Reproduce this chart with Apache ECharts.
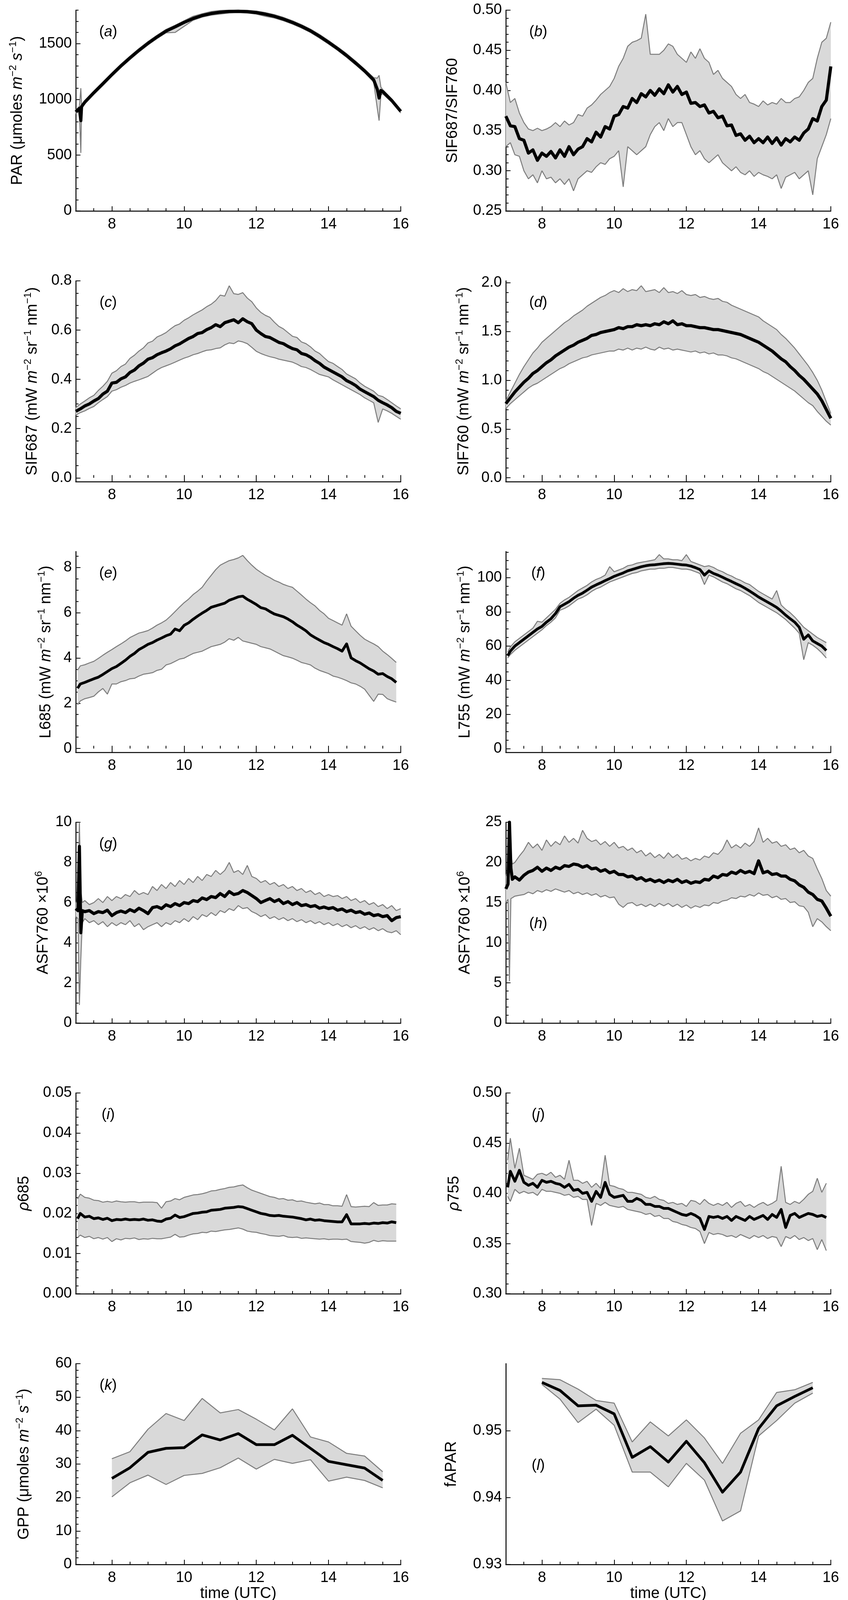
<!DOCTYPE html>
<html>
<head>
<meta charset="utf-8">
<script src="https://cdn.jsdelivr.net/npm/echarts@6/dist/echarts.min.js"></script>
<style>
  html, body { margin: 0; padding: 0; background: #fff; }
  #fig { width: 2171px; height: 4148px; }
</style>
</head>
<body>
<div id="fig"></div>
<script>
// ---- time stamps (UTC hours) ----
var T = [7,7.125,7.25,7.375,7.5,7.625,7.75,7.875,8,8.125,8.25,8.375,8.5,8.625,8.75,8.875,
  9,9.125,9.25,9.375,9.5,9.625,9.75,9.875,10,10.125,10.25,10.375,10.5,10.625,10.75,10.875,
  11,11.125,11.25,11.375,11.5,11.625,11.75,11.875,12,12.125,12.25,12.375,12.5,12.625,12.75,12.875,
  13,13.125,13.25,13.375,13.5,13.625,13.75,13.875,14,14.125,14.25,14.375,14.5,14.625,14.75,14.875,
  15,15.125,15.25,15.375,15.5,15.625,15.75,15.875,16];
var tR = [7.05].concat(T.slice(1, 72));                       // radiance / reflectance records
var tSpike = [7, 7.06, 7.1, 7.14, 7.18].concat(T.slice(2));   // ASFY with start-up spike
var tPar = [7,7.1,7.14,7.16,7.18,7.25,7.5,7.75,8,8.25,8.5,8.75,9,9.25,9.5,9.75,10,10.25,10.5,10.75,
  11,11.25,11.5,11.75,12,12.25,12.5,12.75,13,13.25,13.5,13.75,14,14.25,14.5,14.75,15,15.25,
  15.35,15.4,15.45,15.5,15.75,16];
var tHalf = [8,8.5,9,9.5,10,10.5,11,11.5,12,12.5,13,13.5,14,14.5,15,15.5];

// ---- (a) PAR ----
var parMean = [888,920,810,935,930,975,1060,1140,1222,1300,1372,1440,1503,1560,1612,1650,1690,1725,1752,1770,
  1782,1789,1790,1787,1778,1764,1745,1720,1690,1655,1615,1566,1512,1455,1393,1326,1255,1175,
  1090,1012,1080,1070,990,893];
var parUp = [905,935,1100,950,945,990,1075,1155,1237,1315,1387,1455,1518,1575,1627,1665,1705,1745,1768,1788,
  1797,1800,1800,1798,1792,1778,1760,1735,1705,1670,1630,1582,1528,1470,1410,1342,1270,1195,
  1190,1215,1110,1088,1005,905];
var parLo = [870,900,520,915,915,960,1045,1125,1207,1285,1357,1425,1488,1545,1597,1600,1655,1710,1738,1755,
  1765,1775,1777,1774,1765,1745,1730,1705,1675,1640,1600,1550,1496,1440,1378,1310,1240,1155,
  920,810,1040,1050,975,878];

// ---- (b) SIF687/SIF760 ----
var bMean = [0.368,0.356,0.355,0.340,0.338,0.322,0.326,0.313, 0.322,0.318,0.324,0.316,0.326,0.318,0.330,0.320,
  0.327,0.330,0.340,0.336,0.348,0.342,0.355,0.352, 0.368,0.370,0.380,0.378,0.390,0.385,0.396,0.392,
  0.400,0.394,0.402,0.396,0.407,0.398,0.405,0.395, 0.398,0.384,0.385,0.380,0.382,0.372,0.374,0.366,
  0.368,0.356,0.357,0.344,0.346,0.338,0.343,0.335, 0.340,0.335,0.342,0.334,0.341,0.332,0.340,0.336,
  0.342,0.338,0.347,0.352,0.365,0.362,0.380,0.388, 0.430];
var bUp = [0.410,0.385,0.390,0.372,0.360,0.352,0.350,0.353, 0.350,0.352,0.355,0.360,0.355,0.362,0.357,0.360,
  0.370,0.368,0.378,0.382,0.388,0.395,0.400,0.405, 0.415,0.430,0.440,0.455,0.460,0.462,0.465,0.495,
  0.445,0.445,0.445,0.450,0.458,0.455,0.445,0.440, 0.435,0.448,0.440,0.452,0.440,0.435,0.420,0.425,
  0.415,0.410,0.405,0.395,0.390,0.395,0.385,0.383, 0.380,0.387,0.382,0.385,0.383,0.390,0.385,0.385,
  0.390,0.392,0.400,0.410,0.415,0.440,0.460,0.465, 0.485];
var bLo = [0.330,0.335,0.320,0.318,0.300,0.290,0.295,0.285, 0.300,0.290,0.292,0.285,0.290,0.283,0.290,0.275,
  0.290,0.295,0.300,0.298,0.305,0.310,0.308,0.315, 0.318,0.325,0.280,0.330,0.325,0.320,0.325,0.330,
  0.345,0.355,0.360,0.350,0.365,0.355,0.360,0.360, 0.345,0.330,0.320,0.325,0.315,0.310,0.315,0.320,
  0.310,0.305,0.300,0.305,0.298,0.295,0.300,0.293, 0.298,0.295,0.293,0.290,0.295,0.278,0.292,0.295,
  0.298,0.290,0.295,0.300,0.270,0.315,0.330,0.345, 0.365];

// ---- (c) SIF687 ----
var cMean = [0.270,0.280,0.292,0.300,0.312,0.322,0.340,0.352, 0.385,0.388,0.402,0.410,0.428,0.438,0.455,0.466,
  0.482,0.488,0.500,0.508,0.515,0.524,0.536,0.544, 0.555,0.566,0.574,0.586,0.590,0.602,0.610,0.622,
  0.614,0.630,0.636,0.642,0.630,0.646,0.634,0.626, 0.600,0.586,0.574,0.570,0.560,0.550,0.545,0.534,
  0.525,0.520,0.505,0.500,0.490,0.476,0.465,0.450, 0.440,0.430,0.420,0.410,0.395,0.386,0.375,0.360,
  0.350,0.340,0.330,0.315,0.305,0.296,0.285,0.270, 0.262];
var cUp = [0.285,0.300,0.312,0.325,0.335,0.355,0.372,0.392, 0.425,0.435,0.452,0.462,0.485,0.498,0.515,0.528,
  0.548,0.555,0.572,0.580,0.590,0.605,0.618,0.625, 0.640,0.650,0.662,0.672,0.682,0.695,0.705,0.720,
  0.742,0.738,0.780,0.748,0.745,0.752,0.730,0.715, 0.690,0.672,0.660,0.652,0.632,0.615,0.605,0.590,
  0.575,0.570,0.552,0.545,0.532,0.515,0.505,0.488, 0.472,0.465,0.452,0.440,0.422,0.412,0.402,0.385,
  0.372,0.362,0.352,0.335,0.330,0.318,0.305,0.292, 0.280];
var cLo = [0.255,0.265,0.272,0.282,0.290,0.305,0.318,0.330, 0.352,0.358,0.368,0.375,0.385,0.392,0.398,0.405,
  0.412,0.425,0.438,0.448,0.455,0.462,0.470,0.478, 0.486,0.492,0.500,0.505,0.512,0.518,0.520,0.525,
  0.528,0.540,0.548,0.545,0.556,0.552,0.545,0.530, 0.514,0.505,0.498,0.492,0.488,0.482,0.478,0.474,
  0.470,0.462,0.452,0.448,0.440,0.430,0.420,0.415, 0.410,0.398,0.388,0.378,0.368,0.358,0.348,0.338,
  0.325,0.315,0.305,0.225,0.280,0.272,0.262,0.250, 0.238];

// ---- (d) SIF760 ----
var dMean = [0.76,0.82,0.88,0.93,0.98,1.02,1.07,1.10, 1.14,1.18,1.21,1.25,1.28,1.31,1.34,1.36,
  1.39,1.41,1.43,1.46,1.47,1.49,1.50,1.51, 1.52,1.54,1.53,1.55,1.55,1.57,1.56,1.57,
  1.56,1.58,1.57,1.60,1.58,1.61,1.57,1.58, 1.56,1.56,1.55,1.54,1.54,1.53,1.52,1.52,
  1.51,1.50,1.49,1.48,1.47,1.45,1.43,1.41, 1.39,1.36,1.33,1.30,1.26,1.22,1.19,1.14,
  1.10,1.05,1.01,0.96,0.91,0.86,0.79,0.70, 0.61];
var dUp = [0.79,0.88,0.97,1.06,1.14,1.21,1.28,1.33, 1.39,1.43,1.47,1.51,1.55,1.59,1.62,1.66,
  1.69,1.72,1.76,1.79,1.82,1.85,1.87,1.90, 1.92,1.90,1.94,1.91,1.93,1.92,1.97,1.91,
  1.92,1.93,1.90,1.95,1.90,1.91,1.89,1.92, 1.88,1.87,1.88,1.85,1.86,1.84,1.83,1.84,
  1.81,1.80,1.77,1.75,1.73,1.71,1.69,1.67, 1.65,1.61,1.58,1.55,1.52,1.47,1.43,1.38,
  1.33,1.27,1.21,1.15,1.08,1.00,0.90,0.78, 0.66];
var dLo = [0.71,0.76,0.80,0.84,0.88,0.92,0.95,0.97, 1.00,1.03,1.06,1.09,1.12,1.14,1.17,1.19,
  1.21,1.23,1.24,1.26,1.27,1.28,1.29,1.30, 1.30,1.32,1.31,1.33,1.31,1.33,1.32,1.34,
  1.32,1.31,1.34,1.32,1.33,1.31,1.32,1.31, 1.30,1.29,1.30,1.28,1.29,1.27,1.28,1.26,
  1.26,1.25,1.23,1.22,1.20,1.18,1.16,1.14, 1.12,1.09,1.07,1.04,1.01,0.98,0.95,0.92,
  0.89,0.85,0.81,0.77,0.74,0.68,0.63,0.58, 0.54];

// ---- (e) L685 ----
var eMean = [2.66,2.85,2.92,3.00,3.08,3.15,3.27,3.40, 3.53,3.62,3.76,3.90,4.07,4.20,4.37,4.48,
  4.60,4.68,4.79,4.88,4.98,5.05,5.28,5.20, 5.44,5.55,5.71,5.85,5.98,6.10,6.24,6.30,
  6.36,6.42,6.55,6.62,6.70,6.73,6.59,6.48, 6.36,6.22,6.17,6.05,5.94,5.88,5.82,5.72,
  5.60,5.45,5.33,5.20,5.02,4.90,4.79,4.68, 4.60,4.50,4.41,4.30,4.62,4.00,3.88,3.78,
  3.65,3.52,3.42,3.28,3.31,3.18,3.08,2.92];
var eUp = [3.46,3.65,3.70,3.78,3.85,3.98,4.12,4.25, 4.37,4.50,4.62,4.75,4.90,5.00,5.10,5.15,
  5.21,5.32,5.45,5.55,5.67,5.85,6.05,6.25, 6.44,6.60,6.80,6.95,7.12,7.40,7.65,7.90,
  8.10,8.20,8.30,8.35,8.42,8.53,8.30,8.10, 7.92,7.78,7.65,7.55,7.43,7.35,7.25,7.18,
  7.12,6.95,6.78,6.60,6.44,6.30,6.10,5.95, 5.75,5.65,5.55,5.45,5.95,5.40,5.20,5.00,
  4.83,4.72,4.62,4.50,4.30,4.15,3.98,3.80];
var eLo = [1.93,2.10,2.20,2.25,2.31,2.50,2.65,2.40, 2.85,2.85,2.95,3.00,3.08,3.10,3.20,3.28,
  3.31,3.35,3.45,3.50,3.69,3.75,3.85,3.95, 3.99,4.10,4.20,4.25,4.30,4.40,4.50,4.55,
  4.60,4.70,4.85,4.78,4.91,4.75,4.70,4.65, 4.60,4.50,4.45,4.40,4.30,4.20,4.10,4.05,
  3.99,3.90,3.80,3.75,3.69,3.55,3.45,3.38, 3.31,3.20,3.15,3.08,3.00,2.90,2.85,2.75,
  2.62,2.35,2.08,2.40,2.39,2.20,2.12,2.05];

// ---- (f) L755 ----
var fMean = [54.3,57.0,60.0,62.0,64.0,66.0,68.0,70.0, 71.5,74.0,76.0,79.0,83.0,84.5,86.0,88.0,
  89.7,91.0,92.7,94.5,95.8,97.0,98.3,99.5, 100.8,101.8,102.8,104.0,104.8,105.6,106.4,107.0,
  107.4,107.6,107.9,108.2,108.4,108.2,107.9,107.6, 107.4,106.8,105.9,104.8,101.5,104.0,102.5,101.5,
  100.3,99.0,97.8,96.5,95.3,93.8,92.2,90.5, 88.7,87.2,85.7,84.2,82.6,80.5,78.1,76.0,
  74.0,71.0,64.0,66.5,63.0,61.5,60.0,57.4];
var fUp = [56.5,59.5,62.5,64.5,66.5,68.5,70.5,74.5, 74,76.5,79,81.5,85,87,88.5,90.5,
  92.5,94,95.5,97.5,99,100,101.5,106.5, 103.5,104.5,105.5,107,107.5,108.5,109,109.5,
  110,110.5,113.5,111,111,110.5,110.5,110, 113.5,109.5,108.5,107.5,106.5,107,106,104.5,
  103.5,102,101,99.5,98.5,97,96,94, 92,90.5,89,87.5,92.5,84,81.5,79.5,
  77,74,71,69,67,65,63.5,62];
var fLo = [53,55,57.5,59.5,61.5,63.5,65.5,67.5, 69.5,72,74,76.5,81,82,83.5,85.5,
  87.5,88.5,90,92,93.5,94.5,96,97.5, 98.5,99.5,100.5,101.5,102.5,103,104,104.5,
  105,105,105.5,105.5,106,106,105.5,105, 105,104.5,103.5,102.5,96,101.5,100.5,99,
  97.5,96.5,95,93.5,92.5,91,89.5,87.5, 85.5,84,82.5,81,79.5,77.5,75.5,73,
  70.5,67.5,52,62,60.5,58.5,56,53];

// ---- (g) ASFY760 ----
var gMean = [5.7,5.6,8.8,4.5,5.6, 5.55,5.6,5.45,5.55,5.5,5.62,
  5.35,5.5,5.58,5.5,5.65,5.55,5.72,5.6, 5.45,5.75,5.8,5.7,5.89,5.8,5.95,5.85,
  6.0,5.95,6.1,6.05,6.23,6.15,6.3,6.25, 6.45,6.3,6.55,6.4,6.45,6.6,6.5,6.35,
  6.2,6.0,6.1,6.2,6.05,6.15,5.95,6.05, 5.9,6.0,5.85,5.9,5.8,5.85,5.72,5.78,
  5.7,5.75,5.62,5.68,5.55,5.62,5.5,5.55, 5.42,5.48,5.35,5.4,5.3,5.35,5.1,5.25, 5.3];
var gUp = [6.0,6.1,10.0,6.6,6.0, 6.1,5.9,6.0,6.2,6.0,6.3,
  6.1,6.3,6.2,6.4,6.3,6.6,6.4,6.5, 6.4,6.8,6.6,6.9,6.7,7.0,6.8,7.1,
  6.9,7.2,7.0,7.3,7.1,7.4,7.3,7.6, 7.4,7.6,8.0,7.5,7.6,7.4,7.85,7.3,
  7.2,7.0,7.1,6.9,7.0,6.8,6.9,6.7, 6.8,6.6,6.7,6.5,6.6,6.4,6.5,6.3,
  6.4,6.3,6.35,6.2,6.3,6.1,6.2,6.0, 6.1,5.9,6.0,5.8,5.9,5.7,5.85,5.6, 5.7];
var gLo = [5.3,5.2,0.9,3.2,5.0, 5.2,5.0,5.1,4.9,5.05,4.8,
  5.0,4.85,5.0,4.9,5.1,4.8,4.95,4.65, 4.8,4.9,5.0,4.8,5.0,4.9,5.1,5.0,
  5.2,5.05,5.3,5.15,5.4,5.3,5.5,5.35, 5.6,5.5,5.7,5.6,5.85,5.7,5.75,5.55,
  5.45,5.3,5.4,5.2,5.3,5.15,5.25,5.1, 5.2,5.05,5.15,5.0,5.1,4.95,5.05,4.9,
  5.0,4.85,4.95,4.8,4.9,4.75,4.85,4.7, 4.8,4.65,4.75,4.6,4.7,4.55,4.5,4.6, 4.4];

// ---- (h) ASFY760 ----
var hMean = [16.7,17.3,25.0,19.3,17.9, 18.2,17.8,18.4,18.8,19.0,19.4,
  18.9,19.3,19.0,19.4,19.2,19.6,19.5,19.8, 19.7,19.4,19.6,19.2,19.3,18.9,19.1,18.7,
  18.9,18.5,18.5,18.2,18.3,17.9,18.1,17.7, 17.9,17.6,17.8,17.5,17.8,17.6,17.9,17.5,
  17.7,17.4,17.6,17.5,17.9,17.8,18.3,18.1, 18.5,18.4,18.8,18.6,19.0,18.7,18.9,18.6,
  20.2,18.7,18.9,18.5,18.6,18.3,18.3,17.9, 17.7,17.2,16.9,16.3,16.0,15.4,15.2,14.3, 13.3];
var hUp = [18.3,19.0,25.0,21.0,19.8, 20.0,20.8,21.5,22.5,21.8,22.3,
  21.5,22.8,22.0,22.6,22.2,23.3,22.5,23.0, 22.4,24.0,23.0,22.6,22.8,22.2,22.6,22.0,
  22.5,21.8,22.0,21.5,21.8,21.2,21.5,20.8, 21.2,20.6,21.0,20.5,21.2,20.6,21.0,20.4,
  20.6,20.2,20.5,20.3,20.8,20.6,21.2,21.0, 21.6,22.8,21.8,22.2,21.8,22.4,22.0,22.6,
  24.3,22.5,23.0,22.4,22.6,22.0,22.2,21.6, 21.8,21.2,21.5,20.8,20.5,19.2,18.0,16.5, 15.8];
var hLo = [15.0,15.4,5.2,15.5,15.6, 15.8,15.9,16.0,16.3,16.1,16.5,
  16.3,16.6,16.4,16.7,16.5,16.3,16.5,16.1, 16.3,16.0,16.2,15.9,16.1,15.7,15.9,15.6,
  15.7,14.8,14.4,14.9,15.0,14.6,14.8,14.5, 14.8,14.5,14.9,14.6,14.9,14.5,14.8,14.4,
  14.7,14.3,14.6,14.4,14.7,14.6,15.0,14.9, 15.2,15.3,15.6,15.5,15.8,15.7,16.0,15.8,
  16.2,15.9,16.0,15.6,15.8,15.4,15.5,15.0, 15.1,14.6,14.5,13.8,12.0,13.0,12.6,12.0, 11.5];

// ---- (i) rho685 ----
var iMean = [0.0187,0.0200,0.0191,0.0193,0.0187,0.0189,0.0185,0.0188, 0.0182,0.0185,0.0184,0.0186,0.0184,0.0185,0.0184,0.0186,
  0.0183,0.0184,0.0181,0.0180,0.0186,0.0188,0.0196,0.0190, 0.0192,0.0196,0.0200,0.0201,0.0203,0.0204,0.0208,0.0209,
  0.0210,0.0213,0.0214,0.0215,0.0217,0.0216,0.0212,0.0208, 0.0204,0.0200,0.0198,0.0195,0.0194,0.0195,0.0193,0.0192,
  0.0191,0.0189,0.0187,0.0184,0.0186,0.0183,0.0184,0.0182, 0.0181,0.0180,0.0179,0.0179,0.0197,0.0174,0.0174,0.0174,
  0.0175,0.0174,0.0176,0.0175,0.0177,0.0176,0.0179,0.0177];
var iUp = [0.0236,0.0248,0.0240,0.0238,0.0233,0.0232,0.0228,0.0230, 0.0228,0.0231,0.0229,0.0228,0.0229,0.0229,0.0227,0.0228,
  0.0228,0.0228,0.0227,0.0213,0.0229,0.0231,0.0237,0.0234, 0.0240,0.0243,0.0246,0.0247,0.0249,0.0252,0.0256,0.0257,
  0.0260,0.0262,0.0265,0.0266,0.0269,0.0271,0.0264,0.0258, 0.0254,0.0250,0.0246,0.0242,0.0240,0.0236,0.0237,0.0233,
  0.0234,0.0230,0.0231,0.0228,0.0226,0.0224,0.0226,0.0222, 0.0222,0.0219,0.0219,0.0218,0.0247,0.0217,0.0216,0.0217,
  0.0218,0.0217,0.0227,0.0220,0.0221,0.0221,0.0224,0.0223];
var iLo = [0.0140,0.0146,0.0140,0.0143,0.0137,0.0140,0.0136,0.0140, 0.0130,0.0137,0.0134,0.0138,0.0137,0.0139,0.0135,0.0137,
  0.0136,0.0138,0.0137,0.0137,0.0139,0.0141,0.0148,0.0141, 0.0142,0.0146,0.0149,0.0150,0.0153,0.0152,0.0156,0.0155,
  0.0157,0.0159,0.0160,0.0162,0.0164,0.0161,0.0156,0.0154, 0.0153,0.0150,0.0148,0.0145,0.0144,0.0143,0.0145,0.0141,
  0.0140,0.0141,0.0138,0.0139,0.0138,0.0137,0.0136,0.0137, 0.0135,0.0136,0.0136,0.0135,0.0136,0.0130,0.0129,0.0128,
  0.0126,0.0128,0.0133,0.0130,0.0132,0.0131,0.0131,0.0131];

// ---- (j) rho755 ----
var jMean = [0.406,0.422,0.412,0.423,0.411,0.408,0.410,0.406, 0.413,0.411,0.412,0.410,0.409,0.406,0.409,0.403,
  0.404,0.400,0.401,0.392,0.402,0.396,0.411,0.399, 0.396,0.397,0.398,0.392,0.392,0.395,0.393,0.389,
  0.389,0.387,0.387,0.385,0.385,0.383,0.381,0.379, 0.378,0.380,0.378,0.375,0.364,0.377,0.376,0.377,
  0.375,0.377,0.373,0.377,0.375,0.373,0.377,0.374, 0.376,0.378,0.374,0.379,0.376,0.384,0.366,0.378,
  0.380,0.376,0.378,0.380,0.379,0.377,0.378,0.376];
var jUp = [0.433,0.455,0.425,0.445,0.418,0.416,0.414,0.419, 0.420,0.418,0.421,0.416,0.418,0.414,0.433,0.413,
  0.413,0.410,0.412,0.406,0.410,0.405,0.438,0.408, 0.407,0.405,0.404,0.401,0.401,0.400,0.399,0.396,
  0.395,0.397,0.394,0.393,0.390,0.391,0.389,0.390, 0.387,0.393,0.392,0.389,0.394,0.390,0.388,0.390,
  0.388,0.391,0.386,0.390,0.392,0.387,0.389,0.386, 0.389,0.391,0.388,0.390,0.393,0.427,0.391,0.389,
  0.392,0.390,0.394,0.399,0.402,0.415,0.401,0.410];
var jLo = [0.397,0.392,0.404,0.400,0.402,0.400,0.401,0.398, 0.404,0.402,0.402,0.401,0.400,0.398,0.399,0.396,
  0.397,0.394,0.394,0.368,0.390,0.388,0.391,0.388, 0.387,0.386,0.387,0.384,0.383,0.382,0.381,0.379,
  0.380,0.377,0.378,0.375,0.375,0.372,0.371,0.369, 0.368,0.366,0.365,0.362,0.350,0.361,0.359,0.360,
  0.359,0.357,0.358,0.356,0.359,0.357,0.355,0.358, 0.356,0.358,0.355,0.357,0.356,0.347,0.357,0.355,
  0.358,0.354,0.356,0.353,0.355,0.344,0.354,0.343];

// ---- (k) GPP, (l) fAPAR, half-hourly ----
var kMean = [25.7,28.9,33.5,34.7,34.9,38.7,37.2,39.1,35.8,35.8,38.6,34.7,30.8,29.8,28.8,25.1];
var kUp = [31.6,33.7,40.4,45.1,43.0,49.6,45.3,46.3,43.4,40.2,46.5,38.1,36.6,33.2,32.4,27.7];
var kLo = [20.2,24.4,26.7,23.9,26.6,27.2,28.9,31.8,28.5,31.4,30.2,31.3,24.9,26.1,25.1,22.9];
var lMean = [0.9572,0.9560,0.9537,0.9538,0.9525,0.9460,0.9476,0.9453,0.9484,0.9452,0.9408,0.9438,0.9503,0.9537,0.9551,0.9564];
var lUp = [0.9578,0.9576,0.9562,0.9545,0.9541,0.9483,0.9513,0.9492,0.9516,0.9489,0.9451,0.9496,0.9516,0.9557,0.9561,0.9572];
var lLo = [0.9569,0.9547,0.9512,0.9532,0.9508,0.9438,0.9438,0.9416,0.9451,0.9426,0.9365,0.9380,0.9492,0.9515,0.9541,0.9556];

// ---- tick labels ----
var xTicks = [8, 10, 12, 14, 16];
var aTicks = [0, 500, 1000, 1500];
var bTicks = [0.25, 0.30, 0.35, 0.40, 0.45, 0.50];
var cTicks = [0, 0.2, 0.4, 0.6, 0.8];
var dTicks = [0, 0.5, 1.0, 1.5, 2.0];
var eTicks = [0, 2, 4, 6, 8];
var fTicks = [0, 20, 40, 60, 80, 100];
var gTicks = [0, 2, 4, 6, 8, 10];
var hTicks = [0, 5, 10, 15, 20, 25];
var iTicks = [0, 0.01, 0.02, 0.03, 0.04, 0.05];
var jTicks = [0.30, 0.35, 0.40, 0.45, 0.50];
var kTicks = [0, 10, 20, 30, 40, 50, 60];
var lTicks = [0.93, 0.94, 0.95];

var FONT = "'Liberation Sans', Arial, Helvetica, sans-serif";
var COL_X = [194, 1295];
var ROW_Y = [26, 719, 1412, 2105, 2798, 3491];
var GW = 832, GH = 514;
var UNITS = '(mW {i|m}{s|\u22122} sr{s|\u22121} nm{s|\u22121})';

var panels = [
  {id: 'a', col: 0, row: 0, t: tPar, mean: parMean, up: parUp, lo: parLo, min: 0, max: 1800, ticks: aTicks, minor: 100, dec: 0,
    name: 'PAR (\u03bcmoles {i|m}{s|\u22122} {i|s}{s|\u22121})', gap: 125, lw: 8},
  {id: 'b', col: 1, row: 0, t: T, mean: bMean, up: bUp, lo: bLo, min: 0.25, max: 0.50, ticks: bTicks, minor: 0.01, dec: 2,
    name: 'SIF687/SIF760', gap: 112, lw: 8},
  {id: 'c', col: 0, row: 1, t: T, mean: cMean, up: cUp, lo: cLo, min: -0.0154, max: 0.8, ticks: cTicks, minor: 0.05, dec: 1,
    name: 'SIF687 ' + UNITS, gap: 87, lw: 8},
  {id: 'd', col: 1, row: 1, t: T, mean: dMean, up: dUp, lo: dLo, min: -0.04, max: 2.02, ticks: dTicks, minor: 0.1, dec: 1,
    name: 'SIF760 ' + UNITS, gap: 83, lw: 8},
  {id: 'e', col: 0, row: 2, t: tR, mean: eMean, up: eUp, lo: eLo, min: -0.17, max: 8.7, ticks: eTicks, minor: 0.5, dec: 0,
    name: 'L685 ' + UNITS, gap: 52, lw: 7},
  {id: 'f', col: 1, row: 2, t: tR, mean: fMean, up: fUp, lo: fLo, min: -2.2, max: 115.3, ticks: fTicks, minor: 5, dec: 0,
    name: 'L755 ' + UNITS, gap: 80, lw: 7},
  {id: 'g', col: 0, row: 3, t: tSpike, mean: gMean, up: gUp, lo: gLo, min: 0, max: 10, ticks: gTicks, minor: 0.5, dec: 0,
    name: 'ASFY760 \u00d710{s|6}', gap: 59, lw: 8},
  {id: 'h', col: 1, row: 3, t: tSpike, mean: hMean, up: hUp, lo: hLo, min: 0, max: 25, ticks: hTicks, minor: 1, dec: 0,
    name: 'ASFY760 \u00d710{s|6}', gap: 80, letterDy: 260, lw: 8},
  {id: 'i', col: 0, row: 4, t: tR, mean: iMean, up: iUp, lo: iLo, min: 0, max: 0.05, ticks: iTicks, minor: 0.002, dec: 2,
    name: '{i|\u03c1}685', gap: 108, lw: 7},
  {id: 'j', col: 1, row: 4, t: tR, mean: jMean, up: jUp, lo: jLo, min: 0.30, max: 0.50, ticks: jTicks, minor: 0.01, dec: 2,
    name: '{i|\u03c1}755', gap: 108, lw: 7},
  {id: 'k', col: 0, row: 5, t: tHalf, mean: kMean, up: kUp, lo: kLo, min: 0, max: 60, ticks: kTicks, minor: 2, dec: 0,
    name: 'GPP (\u03bcmoles {i|m}{s|\u22122} {i|s}{s|\u22121})', gap: 108, time: true, lw: 7},
  {id: 'l', col: 1, row: 5, t: tHalf, mean: lMean, up: lUp, lo: lLo, min: 0.93, max: 0.96, ticks: lTicks, minor: 0, dec: 2,
    name: 'fAPAR', gap: 115, time: true, letterDy: 261, lw: 7}
];

// tick positions between two limits (axis decoration only)
function steps(from, to, step) {
  var out = [];
  var n = Math.floor((to - from) / step + 1e-6);
  for (var k = 0; k <= n; k++) out.push(+(from + k * step).toFixed(6));
  return out;
}
function pairs(t, v) {
  return t.map(function (x, i) { return [x, v[i]]; });
}

var richName = {
  i: {fontSize: 40, fontStyle: 'italic', fontFamily: FONT, color: '#000', lineHeight: 48},
  s: {fontSize: 26, fontFamily: FONT, color: '#000', verticalAlign: 'top', lineHeight: 26}
};
var xMinor = steps(7.5, 16, 0.5);

var grids = [], xAxes = [], yAxes = [], series = [], graphics = [];

panels.forEach(function (p, gi) {
  var left = COL_X[p.col], top = ROW_Y[p.row];
  grids.push({left: left, top: top, width: GW, height: GH});

  // major x axis with labels
  xAxes.push({
    type: 'value', gridIndex: gi, position: 'bottom', min: 7, max: 16,
    axisLine: {show: true, onZero: false, lineStyle: {color: '#000', width: 2.5}},
    axisTick: {show: true, inside: true, length: 12, customValues: xTicks, lineStyle: {color: '#000', width: 2}},
    axisLabel: {show: true, customValues: xTicks, margin: 16, fontSize: 38, fontFamily: FONT, color: '#000'},
    splitLine: {show: false},
    name: p.time ? 'time (UTC)' : '', nameLocation: 'middle', nameGap: 49,
    nameTextStyle: {fontSize: 40, fontFamily: FONT, color: '#000'}
  });
  // minor x ticks
  xAxes.push({
    type: 'value', gridIndex: gi, position: 'bottom', min: 7, max: 16,
    axisLine: {show: false},
    axisTick: {show: true, inside: true, length: 7, customValues: xMinor, lineStyle: {color: '#000', width: 2}},
    axisLabel: {show: false}, splitLine: {show: false}
  });

  // major y axis with labels and name
  yAxes.push({
    type: 'value', gridIndex: gi, position: 'left', min: p.min, max: p.max,
    axisLine: {show: true, onZero: false, lineStyle: {color: '#000', width: 2.5}},
    axisTick: {show: true, inside: true, length: 12, customValues: p.ticks, lineStyle: {color: '#000', width: 2}},
    axisLabel: {show: true, customValues: p.ticks, margin: 10, fontSize: 38, fontFamily: FONT, color: '#000',
      formatter: (function (dec) { return function (v) { return (+v).toFixed(dec); }; })(p.dec)},
    splitLine: {show: false},
    name: p.name, nameLocation: 'middle', nameRotate: 90, nameGap: p.gap,
    nameTextStyle: {fontSize: 40, fontFamily: FONT, color: '#000', lineHeight: 48, rich: richName}
  });
  // minor y ticks
  var yMinor = p.minor ? steps(Math.max(0, Math.ceil(p.min / p.minor - 1e-6)) * p.minor, p.max, p.minor) : [];
  if (p.min > 0) yMinor = steps(p.min, p.max, p.minor || 1);
  yAxes.push({
    type: 'value', gridIndex: gi, position: 'left', min: p.min, max: p.max,
    axisLine: {show: false},
    axisTick: {show: p.minor > 0, inside: true, length: 7, customValues: yMinor, lineStyle: {color: '#000', width: 2}},
    axisLabel: {show: false}, splitLine: {show: false}
  });

  var xi = 2 * gi, yi = 2 * gi;
  // shaded band between lower and upper envelopes
  series.push({
    type: 'custom', xAxisIndex: xi, yAxisIndex: yi, silent: true, z: 1,
    data: p.t.map(function (x, i) { return [x, p.lo[i], p.up[i]]; }),
    encode: {x: 0, y: [1, 2]},
    renderItem: function (params, api) {
      if (params.dataIndex !== 0) return null;
      var pts = [];
      for (var i = 0; i < p.t.length; i++) pts.push(api.coord([p.t[i], p.up[i]]));
      for (var j = p.t.length - 1; j >= 0; j--) pts.push(api.coord([p.t[j], p.lo[j]]));
      return {type: 'polygon', shape: {points: pts}, style: {fill: '#d9d9d9', stroke: null}};
    }
  });
  [p.up, p.lo].forEach(function (edge) {
    series.push({
      type: 'line', xAxisIndex: xi, yAxisIndex: yi, data: pairs(p.t, edge), symbol: 'none', silent: true, z: 2,
      lineStyle: {color: '#7c7c7c', width: 2.5}
    });
  });
  series.push({
    type: 'line', xAxisIndex: xi, yAxisIndex: yi, data: pairs(p.t, p.mean), symbol: 'none', silent: true, z: 3,
    lineStyle: {color: '#000', width: p.lw, join: 'round'}
  });

  graphics.push({
    type: 'text', x: left + 83, y: top + (p.letterDy || 56), silent: true,
    style: {
      text: '({i|' + p.id + '})', fontSize: 38, fontFamily: FONT, fill: '#000', align: 'center', verticalAlign: 'middle',
      rich: {i: {fontSize: 38, fontFamily: FONT, fontStyle: 'italic', fill: '#000'}}
    }
  });
});

var chart = echarts.init(document.getElementById('fig'), null, {renderer: 'canvas'});
chart.setOption({
  animation: false,
  backgroundColor: '#fff',
  grid: grids,
  xAxis: xAxes,
  yAxis: yAxes,
  series: series,
  graphic: graphics
});
</script>
</body>
</html>
